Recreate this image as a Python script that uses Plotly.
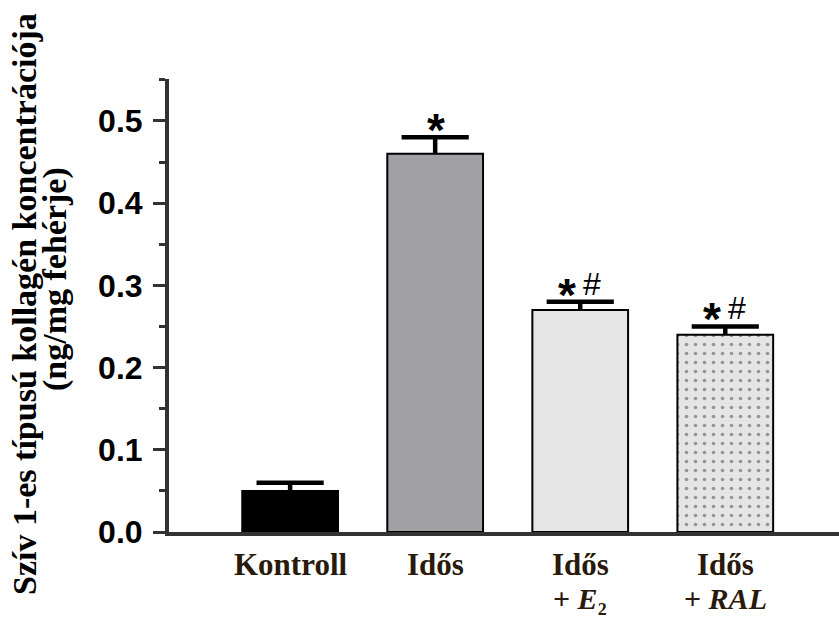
import plotly.graph_objects as go

# Group names, first and second line of the axis label
groups = ["Kontroll", "Idős", "Idős + E2", "Idős + RAL"]
label_line1 = ["Kontroll", "Idős", "Idős", "Idős"]
label_line2 = ["", "", "+ <i>E</i>₂", "+ <i>RAL</i>"]

# Mean collagen concentration and SEM (ng/mg protein)
means = [0.05, 0.46, 0.27, 0.24]
sems = [0.01, 0.02, 0.01, 0.01]

# Significance markers: * vs. Kontroll, # vs. Idős
star = ["", "*", "*", "*"]
hashmark = ["", "", "#", "#"]

fills = ["#000000", "#a1a0a5", "#e5e5e5", "#e5e5e5"]
patterns = ["", "", "", "."]

W, H = 839, 618
L, R, T, B = 169, 0, 79, 86
plot_h = H - T - B
plot_w = W - L - R

SERIF = "Liberation Serif, Times New Roman, serif"
SANS = "Liberation Sans, Arial, sans-serif"
LABEL_COLOR = "#2a1a0c"

fig = go.Figure()
fig.add_trace(go.Bar(
    x=groups,
    y=means,
    width=0.66,
    marker=dict(
        color=fills,
        line=dict(color="black", width=2),
        pattern=dict(shape=patterns, size=9, solidity=0.13,
                     fgcolor="#000000", bgcolor="#e5e5e5", fillmode="overlay"),
    ),
    # upward stem only; the cap is drawn by the marker trace below
    error_y=dict(type="data", array=sems, arrayminus=[0] * len(sems),
                 symmetric=False, color="black", thickness=4.5, width=0),
    showlegend=False,
))

# Error-bar caps at mean + SEM
fig.add_trace(go.Scatter(
    x=groups,
    y=[m + s for m, s in zip(means, sems)],
    mode="markers",
    marker=dict(symbol="line-ew", size=48, color="black",
                line=dict(color="black", width=4.5)),
    cliponaxis=False,
    hoverinfo="skip",
    showlegend=False,
))

annotations = []

def px_to_paper_y(py):
    return (H - B - py) / plot_h

def px_to_paper_x(px):
    return (px - L) / plot_w

# Two-line group labels under the x axis
for g, l1, l2 in zip(groups, label_line1, label_line2):
    annotations.append(dict(
        x=g, xref="x", y=px_to_paper_y(564), yref="paper",
        text=f"<b>{l1}</b>", showarrow=False, xanchor="center", yanchor="middle",
        font=dict(family=SERIF, size=31, color=LABEL_COLOR),
    ))
    if l2:
        annotations.append(dict(
            x=g, xref="x", y=px_to_paper_y(617), yref="paper",
            text=f"<b>{l2}</b>", showarrow=False, xanchor="center", yanchor="bottom",
            font=dict(family=SERIF, size=30, color=LABEL_COLOR),
        ))

# Significance symbols above the error bars
for g, m, s, st, hs in zip(groups, means, sems, star, hashmark):
    top = m + s
    if st:
        annotations.append(dict(
            x=g, xref="x", y=top, yref="y", text="<b>*</b>", showarrow=False,
            xanchor="center", yanchor="bottom", xshift=(-13 if hs else 1), yshift=-21,
            font=dict(family=SANS, size=46, color="black"),
        ))
    if hs:
        annotations.append(dict(
            x=g, xref="x", y=top, yref="y", text="#", showarrow=False,
            xanchor="center", yanchor="bottom", xshift=12, yshift=-2,
            font=dict(family=SANS, size=32, color="black"),
        ))

# Rotated y-axis title, two lines
annotations.append(dict(
    x=px_to_paper_x(24), xref="paper", y=px_to_paper_y(304), yref="paper",
    text="<b>Szív 1-es típusú kollagén koncentrációja</b>", textangle=-90,
    showarrow=False, xanchor="center", yanchor="middle",
    font=dict(family=SERIF, size=34, color="black"),
))
annotations.append(dict(
    x=px_to_paper_x(55), xref="paper", y=px_to_paper_y(279), yref="paper",
    text="<b>(ng/mg fehérje)</b>", textangle=-90,
    showarrow=False, xanchor="center", yanchor="middle",
    font=dict(family=SERIF, size=34, color="black"),
))

fig.update_layout(
    width=W, height=H,
    margin=dict(l=L, r=R, t=T, b=B, pad=0),
    paper_bgcolor="white", plot_bgcolor="white",
    annotations=annotations,
    bargap=0.34,
)
fig.update_xaxes(
    range=[-0.835, 3.784], showline=True, linewidth=4, linecolor="#333333",
    ticks="", showticklabels=False, showgrid=False, zeroline=False, fixedrange=True,
)
fig.update_yaxes(
    range=[0, 0.551], showline=True, linewidth=4, linecolor="#333333",
    ticks="outside", ticklen=12, tickwidth=3, tickcolor="#333333",
    tickvals=[0, 0.1, 0.2, 0.3, 0.4, 0.5], tickformat=".1f",
    tickfont=dict(family=SANS, size=32, color="black", weight="bold"),
    ticklabelstandoff=4,
    minor=dict(tickvals=[0.05, 0.15, 0.25, 0.35, 0.45, 0.55], ticks="outside",
               ticklen=6, tickwidth=3, tickcolor="#333333"),
    showgrid=False, zeroline=False, fixedrange=True,
)

fig.write_html("out.html")
